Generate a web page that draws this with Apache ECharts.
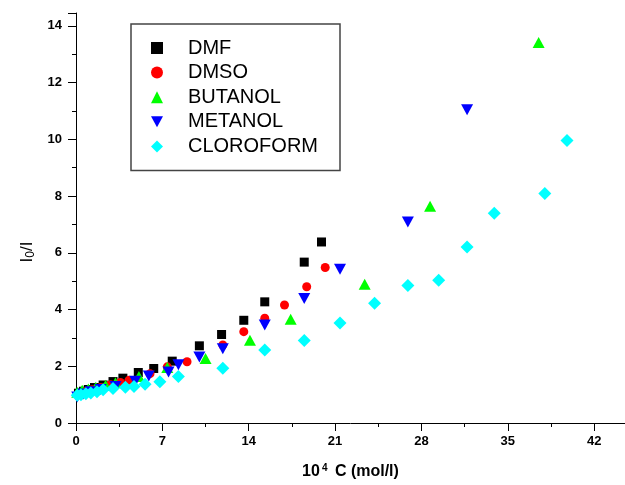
<!DOCTYPE html>
<html><head><meta charset="utf-8">
<script src="https://cdn.jsdelivr.net/npm/echarts@6/dist/echarts.min.js"></script>
<style>html,body{margin:0;padding:0;background:#fff}#c{width:625px;height:485px}</style>
</head><body><div id="c"></div>
<script>
var seriesNames = ['DMF', 'DMSO', 'BUTANOL', 'METANOL', 'CLOROFORM'];
var dmf = [[0.2,1.05],[0.6,1.12],[1.0,1.18],[1.5,1.25],[2.2,1.34],[3.0,1.46],[3.8,1.58],[5.05,1.78],[6.3,1.92],[7.8,2.18],[10.0,2.72],[11.8,3.12],[13.6,3.62],[15.3,4.27],[18.5,5.67],[19.9,6.38]];
var dmso = [[0.2,1.02],[0.7,1.1],[1.3,1.17],[2.0,1.25],[2.8,1.35],[3.6,1.43],[4.3,1.51],[6.0,1.74],[7.4,1.98],[9.0,2.16],[11.9,2.75],[13.6,3.22],[15.3,3.69],[16.9,4.16],[18.7,4.80],[20.2,5.48]];
var butanol = [[0.1,1.08],[0.5,1.15],[1.0,1.2],[1.6,1.26],[2.4,1.33],[3.2,1.42],[5.1,1.64],[7.4,1.96],[10.5,2.27],[14.1,2.92],[17.4,3.66],[23.4,4.89],[28.7,7.64],[37.5,13.41]];
var metanol = [[0.1,0.92],[0.6,1.02],[1.2,1.1],[2.0,1.18],[3.2,1.29],[4.8,1.47],[5.9,1.66],[7.5,1.80],[8.3,2.05],[10.0,2.33],[11.9,2.62],[15.3,3.45],[18.5,4.39],[21.4,5.42],[26.9,7.08],[31.7,11.04]];
var cloroform = [[0.1,0.98],[0.4,1.0],[0.8,1.03],[1.2,1.06],[1.7,1.1],[2.2,1.17],[3.0,1.22],[4.0,1.26],[4.7,1.29],[5.6,1.37],[6.8,1.45],[8.3,1.64],[11.9,1.93],[15.3,2.57],[18.5,2.91],[21.4,3.52],[24.2,4.22],[26.9,4.85],[29.4,5.03],[31.7,6.2],[33.9,7.39],[38.0,8.09],[39.8,9.96]];

var chart = echarts.init(document.getElementById('c'));
var lblFont = {color:'#000', fontFamily:'Liberation Sans, Arial, sans-serif', fontWeight:'bold', fontSize:13};
var axisCommon = {
  axisLine:{show:true, onZero:false, lineStyle:{color:'#000', width:1}},
  axisTick:{show:true, inside:false, length:8, lineStyle:{color:'#000'}},
  minorTick:{show:true, splitNumber:2, length:4, lineStyle:{color:'#000'}},
  splitLine:{show:false}
};
function mk(name, data, symbol, size, color, rot) {
  return {name:name, type:'scatter', data:data, symbol:symbol, symbolSize:size, symbolRotate:rot||0,
    itemStyle:{color:color, opacity:1}, emphasis:{disabled:true}};
}
chart.setOption({
  animation:false,
  backgroundColor:'#fff',
  grid:{left:76, right:0, top:13, bottom:61, containLabel:false},
  xAxis:Object.assign({type:'value', min:0, max:44.5, interval:7,
    name:'{b|10}{s|4}{b| C (mol/l)}', nameLocation:'middle', nameGap:40,
    nameTextStyle:{rich:{b:{fontFamily:'Liberation Sans, Arial, sans-serif', fontWeight:'bold', fontSize:16, color:'#000'}, s:{fontFamily:'Liberation Sans, Arial, sans-serif', fontWeight:'bold', fontSize:10, color:'#000', verticalAlign:'top', padding:[0,3,8,2]}}},
    axisLabel:Object.assign({margin:12, showMaxLabel:false}, lblFont)}, axisCommon),
  yAxis:Object.assign({type:'value', min:0, max:14.45, interval:2,
    name:'{a|I}{s|0}{a|/I}', nameLocation:'middle', nameGap:35, nameRotate:90,
    nameTextStyle:{padding:[0,68,0,0], rich:{a:{fontFamily:'Liberation Sans, Arial, sans-serif', fontSize:17, color:'#000'}, s:{fontFamily:'Liberation Sans, Arial, sans-serif', fontSize:12, color:'#000', verticalAlign:'bottom', padding:[7,0,0,0]}}},
    axisLabel:Object.assign({margin:14, showMaxLabel:false}, lblFont)}, axisCommon),
  legend:{show:true, orient:'vertical', left:131, top:24, padding:[14,22,14,20], itemGap:4.6,
    itemWidth:12, itemHeight:12,
    data:[{name:seriesNames[0]},{name:seriesNames[1]},{name:seriesNames[2]},
          {name:seriesNames[3], icon:'path://M0,0L12,0L6,11Z'},{name:seriesNames[4]}],
    textStyle:{fontFamily:'Liberation Sans, Arial, sans-serif', fontSize:20, color:'#000', lineHeight:20, padding:[0,0,0,20]},
    borderColor:'#444', borderWidth:1.5},
  series:[
    mk(seriesNames[0], dmf, 'rect', 9, '#000000'),
    mk(seriesNames[1], dmso, 'circle', 9, '#ff0000'),
    mk(seriesNames[2], butanol, 'triangle', [12,11], '#00ff00'),
    mk(seriesNames[3], metanol, 'triangle', [12,11], '#0000ff', 180),
    mk(seriesNames[4], cloroform, 'diamond', [13,13], '#00ffff')
  ]
});
</script></body></html>
